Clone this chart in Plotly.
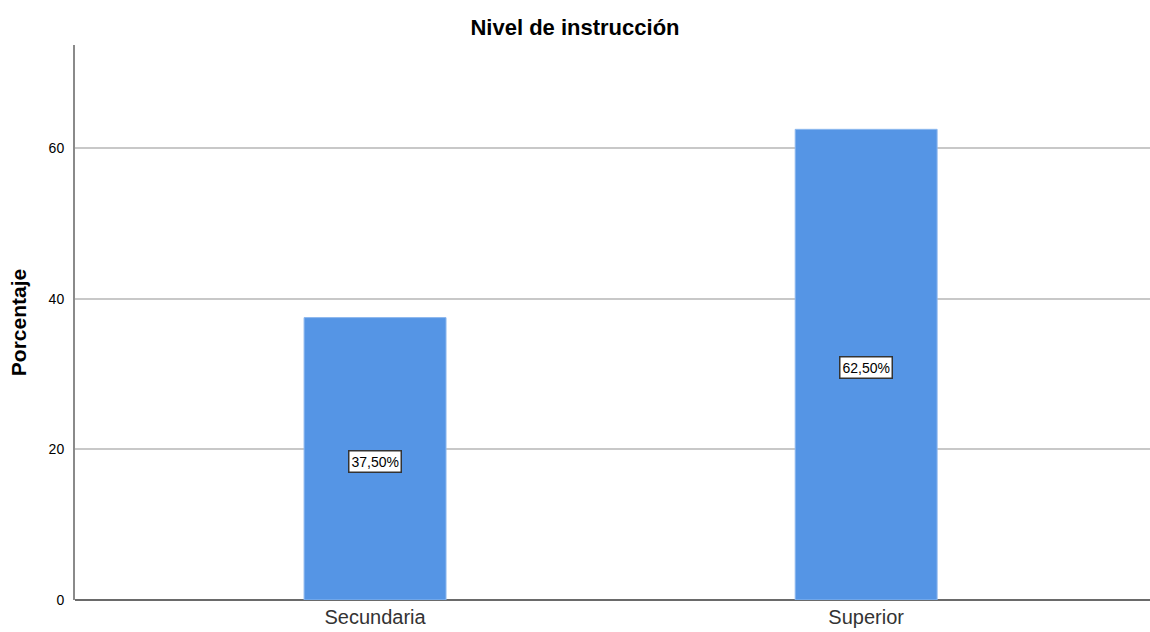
import plotly.graph_objects as go

categories = ["Secundaria", "Superior"]
percentages = [37.5, 62.5]
labels = ["37,50%", "62,50%"]
y_ticks = [0, 20, 40, 60]

fig = go.Figure()
fig.add_trace(go.Bar(
    x=categories, y=percentages, width=0.289,
    marker=dict(color="#5595E5", line=dict(color="#8DB8EE", width=1)),
    hoverinfo="skip",
))

for c, v, t in zip(categories, percentages, labels):
    fig.add_annotation(
        x=c, y=v / 2, text=t, showarrow=False, yshift=-3,
        font=dict(family="Liberation Sans, Arial", size=14, color="#000000"),
        bgcolor="#ffffff", bordercolor="#333333", borderwidth=1.5, borderpad=2,
    )

fig.update_layout(
    width=1150, height=632,
    margin=dict(l=75, r=0, t=45, b=32),
    paper_bgcolor="#ffffff", plot_bgcolor="#ffffff",
    showlegend=False,
    title=dict(text="<b>Nivel de instrucción</b>", x=0.5, xanchor="center",
               y=1 - 27 / 632, yanchor="middle",
               font=dict(family="Liberation Sans, Arial", size=22, color="#000000")),
    font=dict(family="Liberation Sans, Arial", color="#000000"),
)
fig.update_xaxes(
    type="category", range=[-0.611, 1.578], automargin=False,
    showgrid=False, ticks="", showline=False, zeroline=False,
    tickfont=dict(size=20, color="#333333"), ticklabelstandoff=3,
)
fig.update_yaxes(
    range=[0, 73.7], tickvals=y_ticks, ticktext=[str(v) for v in y_ticks],
    automargin=False,
    showgrid=True, gridcolor="#c8c8c8", gridwidth=1.5,
    showline=True, linecolor="#8a8a8a", linewidth=2, ticks="",
    zeroline=True, zerolinecolor="#6a6a6a", zerolinewidth=1.5,
    tickfont=dict(size=14, color="#000000"), ticklabelstandoff=6,
    title=dict(text="<b>Porcentaje</b>", font=dict(size=21, color="#000000"), standoff=16),
)

fig.write_html(
    "out.html",
    config={"displayModeBar": False},
    post_script="document.body.style.margin='0';document.body.style.overflow='hidden';",
)
